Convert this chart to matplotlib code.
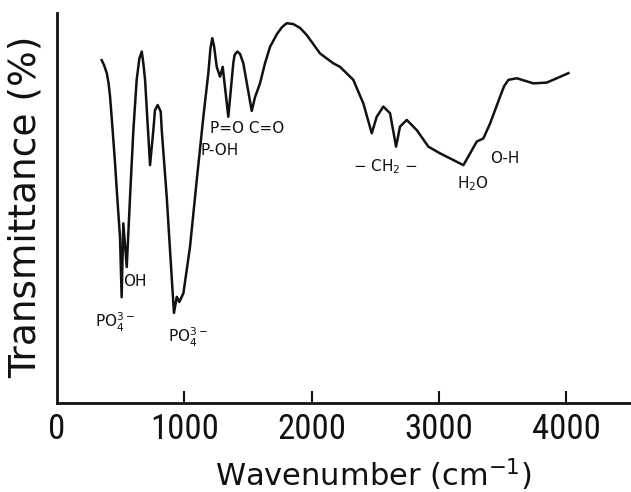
import matplotlib
matplotlib.use("Agg")
import matplotlib.pyplot as plt
from matplotlib import font_manager

# Spectrum (wavenumber in cm^-1, transmittance in %)
wavenumber = [351, 369, 391, 405, 417, 436, 456, 475, 495, 508, 521, 548, 574,
              600, 626, 647, 666, 678, 692, 731, 757, 770, 791, 815, 823, 862,
              901, 919, 941, 961, 993, 1045, 1098, 1150, 1189, 1206, 1220, 1234,
              1255, 1281, 1302, 1346, 1385, 1395, 1417, 1438, 1464, 1530, 1556,
              1595, 1635, 1674, 1729, 1768, 1805, 1855, 1910, 1962, 2067, 2171,
              2224, 2328, 2407, 2473, 2512, 2564, 2617, 2664, 2695, 2748, 2827,
              2918, 3010, 3114, 3193, 3246, 3298, 3350, 3403, 3481, 3513, 3547,
              3613, 3743, 3848, 3927, 4018]
transmittance = [88.0, 86.8, 84.7, 82.2, 78.7, 70.7, 61.8, 52.4, 43.0, 27.7, 46.5,
                 35.4, 53.3, 70.2, 83.0, 88.4, 90.2, 87.3, 83.0, 61.3, 70.2, 75.3,
                 76.6, 74.9, 70.2, 53.3, 32.9, 23.7, 27.8, 26.5, 28.7, 40.5, 57.5,
                 73.6, 84.7, 91.1, 93.6, 91.6, 86.3, 83.8, 86.3, 73.6, 87.2, 89.3,
                 90.2, 89.6, 87.2, 75.1, 78.6, 82.1, 87.3, 91.4, 94.7, 96.4, 97.4,
                 97.2, 96.2, 94.4, 89.7, 87.2, 86.3, 83.0, 77.0, 69.4, 73.6, 76.2,
                 74.5, 66.0, 71.1, 72.8, 70.2, 66.0, 64.3, 62.6, 61.3, 64.3, 67.3,
                 68.1, 71.9, 78.7, 81.4, 83.0, 83.4, 82.1, 82.3, 83.4, 84.7]

xticks = [0, 1000, 2000, 3000, 4000]
xtick_labels = ["0", "1000", "2000", "3000", "4000"]

band_labels = [r"PO$_4^{3-}$", "OH", r"PO$_4^{3-}$", "P=O C=O", "P-OH",
               r"$-$ CH$_2$ $-$", r"H$_2$O", "O-H"]
band_x = [299, 519, 872, 1202, 1124, 2326, 3143, 3403]
band_y = [21.4, 31.8, 17.6, 70.7, 65.1, 60.8, 56.7, 63.1]

# pick a narrow face for the tick numbers if one is installed
names = {f.name for f in font_manager.fontManager.ttflist}
tick_font = dict(family="Liberation Sans", fontsize=20)
for nm in ["Liberation Sans Narrow", "Roboto Condensed", "Open Sans Condensed"]:
    if nm in names:
        tick_font = dict(family=nm, fontsize=25)
        break

fig = plt.figure(figsize=(6.31, 4.92), dpi=100)
ax = fig.add_axes([57 / 631, (492 - 403) / 492, (631 - 57) / 631, (403 - 13) / 492])

ax.plot(wavenumber, transmittance, color="#111111", lw=1.8, solid_joinstyle="round")

for lab, x, y in zip(band_labels, band_x, band_y):
    ax.text(x, y, lab, ha="left", va="center", fontsize=11, color="#111111",
            family="DejaVu Sans")

ax.set_xlim(0, 4510)
ax.set_ylim(0.8, 100)
ax.spines["top"].set_visible(False)
ax.spines["right"].set_visible(False)
for s in ["left", "bottom"]:
    ax.spines[s].set_linewidth(2)
    ax.spines[s].set_color("#111111")

ax.set_yticks([])
ax.set_xticks(xticks[1:])
ax.set_xticklabels([])
ax.tick_params(axis="x", direction="in", length=9, width=1.5, colors="#111111")
for x, lab in zip(xticks, xtick_labels):
    ax.text(x, -0.025, lab, transform=ax.get_xaxis_transform(), ha="center", va="top",
            color="#111111", **tick_font)

ax.text(0.5 * (222 + 525) / 631, (492 - 486) / 492, r"Wavenumber (cm$^{-1}$)",
        transform=fig.transFigure, ha="center", va="baseline", fontsize=22,
        family="DejaVu Sans", color="#111111")
ax.text(26 / 631, 1 - 207 / 492, "Transmittance (%)", transform=fig.transFigure,
        ha="center", va="center", rotation=90, fontsize=27, family="DejaVu Sans",
        color="#111111")

fig.savefig("out.png", dpi=100)
